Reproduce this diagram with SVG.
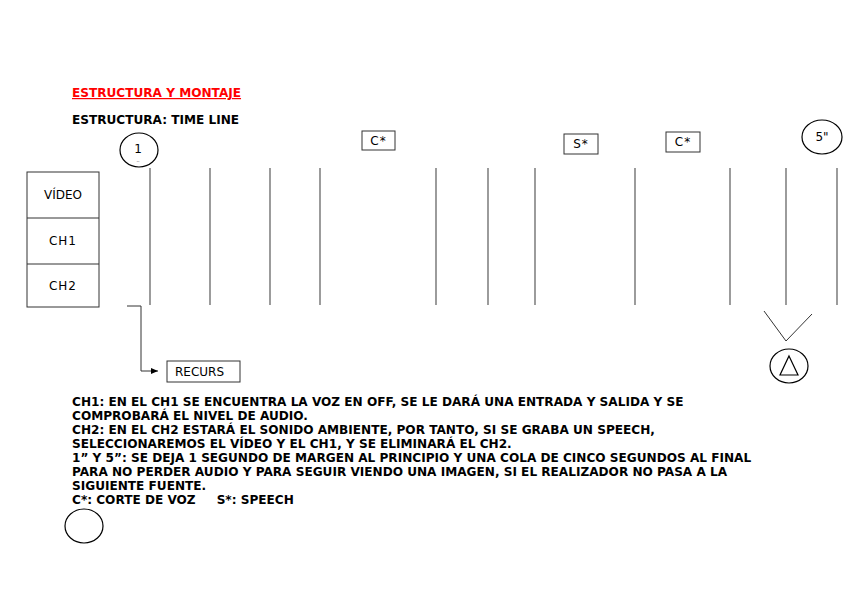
<svg xmlns="http://www.w3.org/2000/svg" width="848" height="599" viewBox="0 0 848 599">
<style>
.b{font-family:"DejaVu Sans",sans-serif;font-weight:bold;font-size:12.1px;fill:#000}
.n{font-family:"DejaVu Sans",sans-serif;font-size:12px;fill:#000}
.s{fill:none;stroke:#000;stroke-width:1.2}
.bx{fill:#fff;stroke:#333;stroke-width:1}
.tl{stroke:#666;stroke-width:1.3}
</style>
<defs>
<marker id="ar" markerWidth="8" markerHeight="8" refX="7" refY="4" orient="auto" markerUnits="userSpaceOnUse">
<path d="M0,1 L7,4 L0,7 Z" fill="#000"/>
</marker>
</defs>
<rect width="848" height="599" fill="#fff"/>
<text class="b" x="72" y="97" style="fill:#f00" text-decoration="underline">ESTRUCTURA Y MONTAJE</text>
<text class="b" x="72" y="124">ESTRUCTURA: TIME LINE</text>

<g id="tracks">
<rect class="bx" x="27" y="172" width="72" height="135"/>
<line x1="27" y1="218" x2="99" y2="218" stroke="#333"/>
<line x1="27" y1="264" x2="99" y2="264" stroke="#333"/>
<text class="n" x="63" y="199" text-anchor="middle">VÍDEO</text>
<text class="n" x="63" y="245" text-anchor="middle" letter-spacing="1">CH1</text>
<text class="n" x="63" y="290" text-anchor="middle" letter-spacing="1">CH2</text>
</g>

<g id="timeline">
<line class="tl" x1="150" y1="168" x2="150" y2="305"/>
<line class="tl" x1="210" y1="168" x2="210" y2="305"/>
<line class="tl" x1="270" y1="168" x2="270" y2="305"/>
<line class="tl" x1="320" y1="168" x2="320" y2="305"/>
<line class="tl" x1="436" y1="168" x2="436" y2="305"/>
<line class="tl" x1="488" y1="168" x2="488" y2="305"/>
<line class="tl" x1="535" y1="168" x2="535" y2="305"/>
<line class="tl" x1="635" y1="168" x2="635" y2="305"/>
<line class="tl" x1="730" y1="168" x2="730" y2="305"/>
<line class="tl" x1="786" y1="168" x2="786" y2="305"/>
<line class="tl" x1="837" y1="168" x2="837" y2="305"/>
</g>

<g id="start">
<ellipse class="s" cx="139" cy="150" rx="19" ry="17"/>
<text class="n" x="138" y="153" text-anchor="middle">1</text>
<text class="n" x="138" y="162" text-anchor="middle" style="font-size:5px">..</text>
</g>
<g id="c1">
<rect class="bx" x="362" y="131" width="33" height="19"/>
<text class="n" x="378.5" y="145" text-anchor="middle" letter-spacing="1">C*</text>
</g>
<g id="s1">
<rect class="bx" x="564" y="134" width="34" height="20"/>
<text class="n" x="581" y="148" text-anchor="middle" letter-spacing="1">S*</text>
</g>
<g id="c2">
<rect class="bx" x="666" y="132" width="34" height="20"/>
<text class="n" x="683" y="146" text-anchor="middle" letter-spacing="1">C*</text>
</g>
<g id="end">
<ellipse class="s" cx="822" cy="137" rx="20" ry="17"/>
<text class="n" x="822" y="141" text-anchor="middle">5"</text>
</g>

<g id="recurs">
<rect class="bx" x="167" y="361" width="73" height="21"/>
<text class="n" x="175" y="376">RECURS</text>
</g>

<g id="tri">
<ellipse class="s" cx="789" cy="366" rx="19" ry="17"/>
<path d="M789,356 L798,375 L780,375 Z" fill="none" stroke="#000" stroke-width="1.2"/>
</g>

<g id="circle2">
<ellipse class="s" cx="84" cy="526" rx="19" ry="17"/>
</g>

<g id="connectors">
<path d="M127,306 H141 V371 H158" fill="none" stroke="#333" stroke-width="1" marker-end="url(#ar)"/>
<path d="M764,311 L786,341 L812,314" fill="none" stroke="#333" stroke-width="1"/>
</g>

<g id="notes">
<text class="b" x="72" y="406">CH1: EN EL CH1 SE ENCUENTRA LA VOZ EN OFF, SE LE DARÁ UNA ENTRADA Y SALIDA Y SE</text>
<text class="b" x="72" y="420">COMPROBARÁ EL NIVEL DE AUDIO.</text>
<text class="b" x="72" y="434">CH2: EN EL CH2 ESTARÁ EL SONIDO AMBIENTE, POR TANTO, SI SE GRABA UN SPEECH,</text>
<text class="b" x="72" y="448">SELECCIONAREMOS EL VÍDEO Y EL CH1, Y SE ELIMINARÁ EL CH2.</text>
<text class="b" x="72" y="462">1” Y 5”: SE DEJA 1 SEGUNDO DE MARGEN AL PRINCIPIO Y UNA COLA DE CINCO SEGUNDOS AL FINAL</text>
<text class="b" x="72" y="476">PARA NO PERDER AUDIO Y PARA SEGUIR VIENDO UNA IMAGEN, SI EL REALIZADOR NO PASA A LA</text>
<text class="b" x="72" y="490">SIGUIENTE FUENTE.</text>
<text class="b" x="72" y="504" xml:space="preserve">C*: CORTE DE VOZ     S*: SPEECH</text>
</g>
</svg>
